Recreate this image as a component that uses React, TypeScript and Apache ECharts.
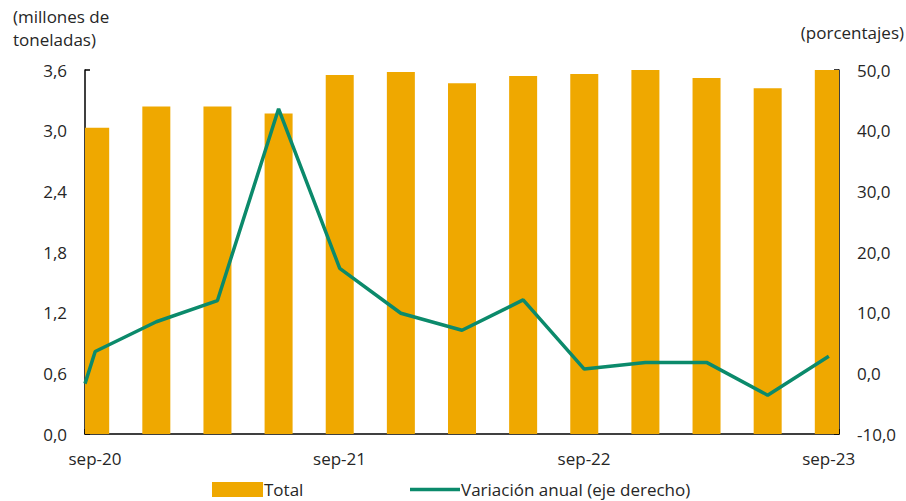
import React, { useEffect, useRef } from "react";
import * as echarts from "echarts";

// Months since sep-20 (bars centred mid-month)
const barMonths = [0.5, 3.5, 6.5, 9.5, 12.5, 15.5, 18.5, 21.5, 24.5, 27.5, 30.5, 33.5, 36.5];
const totalValues = [3.03, 3.24, 3.24, 3.17, 3.55, 3.58, 3.47, 3.54, 3.56, 3.62, 3.52, 3.42, 3.61];
const lineMonths = [0, 0.5, 3.5, 6.5, 9.5, 12.5, 15.5, 18.5, 21.5, 24.5, 27.5, 30.5, 33.5, 36.5];
const variationValues = [-1.7, 3.6, 8.5, 12.0, 43.6, 17.3, 9.9, 7.1, 12.1, 0.7, 1.8, 1.8, -3.6, 2.8];
const tickMonths = [0, 12, 24, 36];
const tickLabels = ["sep-20", "sep-21", "sep-22", "sep-23"];

const FONT = "'Open Sans', Lato, sans-serif";
const FS = 17;
const TEXT = "#262626";
const BAR = "#EFA800";
const LINE = "#0B8A6B";

export default function App() {
  const ref = useRef<HTMLDivElement>(null);
  useEffect(() => {
    if (!ref.current) return;
    const chart = echarts.init(ref.current, undefined, { renderer: "svg" });
    const fmt = (v: number) => v.toFixed(1).replace(".", ",");
    const axisLineStyle = { color: "#000", width: 1.5 };
    chart.setOption({
      animation: false,
      textStyle: { fontFamily: FONT, color: TEXT },
      grid: { left: 85, right: 67, top: 70, bottom: 67 },
      legend: [
        {
          left: 212,
          top: 481,
          padding: 0,
          itemWidth: 51,
          itemHeight: 15,
          data: [{ name: "Total", icon: "rect", itemStyle: { color: BAR } }],
          textStyle: { fontFamily: FONT, fontSize: FS, color: TEXT, padding: [0, 0, 0, -4] },
        },
        {
          left: 410,
          top: 481,
          padding: 0,
          itemWidth: 50,
          itemHeight: 15,
          data: [
            {
              name: "Variación anual (eje derecho)",
              icon: "path://M0,6 L50,6 L50,9.5 L0,9.5 Z",
            },
          ],
          textStyle: { fontFamily: FONT, fontSize: FS, color: TEXT, padding: [0, 0, 0, -4] },
        },
      ],
      graphic: [
        {
          type: "text",
          left: 13,
          top: 5,
          style: {
            text: "(millones de\ntoneladas)",
            font: `${FS}px ${FONT}`,
            fill: TEXT,
            lineHeight: 23,
            textAlign: "left",
          },
        },
        {
          type: "text",
          right: 2,
          top: 24,
          style: { text: "(porcentajes)", font: `${FS}px ${FONT}`, fill: TEXT },
        },
      ],
      xAxis: {
        type: "value",
        min: 0,
        max: 37,
        interval: 12,
        splitLine: { show: false },
        axisLine: { show: true, lineStyle: axisLineStyle },
        axisTick: { show: true, inside: true, length: 5, lineStyle: axisLineStyle },
        axisLabel: {
          fontSize: FS,
          color: TEXT,
          margin: 16,
          padding: [0, 0, 0, 20],
          formatter: (v: number) => {
            const i = tickMonths.indexOf(Math.round(v * 1000) / 1000);
            return i >= 0 ? tickLabels[i] : "";
          },
        },
      },
      yAxis: [
        {
          type: "value",
          min: 0,
          max: 3.6,
          interval: 0.6,
          splitLine: { show: false },
          axisLine: { show: true, lineStyle: axisLineStyle },
          axisTick: { show: true, inside: true, length: 5, lineStyle: axisLineStyle },
          axisLabel: { fontSize: FS, color: TEXT, margin: 18, formatter: fmt },
        },
        {
          type: "value",
          min: -10,
          max: 50,
          interval: 10,
          position: "right",
          splitLine: { show: false },
          axisLine: { show: true, lineStyle: axisLineStyle },
          axisTick: { show: true, inside: true, length: 5, lineStyle: axisLineStyle },
          axisLabel: { fontSize: FS, color: TEXT, margin: 18, formatter: fmt },
        },
      ],
      series: [
        {
          name: "Total",
          type: "custom",
          clip: true,
          itemStyle: { color: BAR },
          encode: { x: 0, y: 1 },
          data: barMonths.map((m, i) => [m, totalValues[i]]),
          renderItem: (params: any, api: any) => {
            const x = api.value(0);
            const v = api.value(1);
            const top = api.coord([x, v]);
            const base = api.coord([x, 0]);
            const w = 28;
            const cs = params.coordSys;
            const shape = echarts.graphic.clipRectByRect(
              { x: top[0] - w / 2, y: top[1], width: w, height: base[1] - top[1] },
              { x: cs.x, y: cs.y, width: cs.width, height: cs.height }
            );
            if (!shape) return null;
            return { type: "rect", shape, style: { fill: BAR } };
          },
          z: 1,
        },
        {
          name: "Variación anual (eje derecho)",
          type: "line",
          yAxisIndex: 1,
          symbol: "none",
          clip: true,
          z: 3,
          lineStyle: { color: LINE, width: 3.5 },
          itemStyle: { color: LINE },
          data: lineMonths.map((m, i) => [m, variationValues[i]]),
        },
      ],
    });
    return () => chart.dispose();
  }, []);
  return <div ref={ref} style={{ width: 906, height: 501, position: "absolute", left: 0, top: 0 }} />;
}
